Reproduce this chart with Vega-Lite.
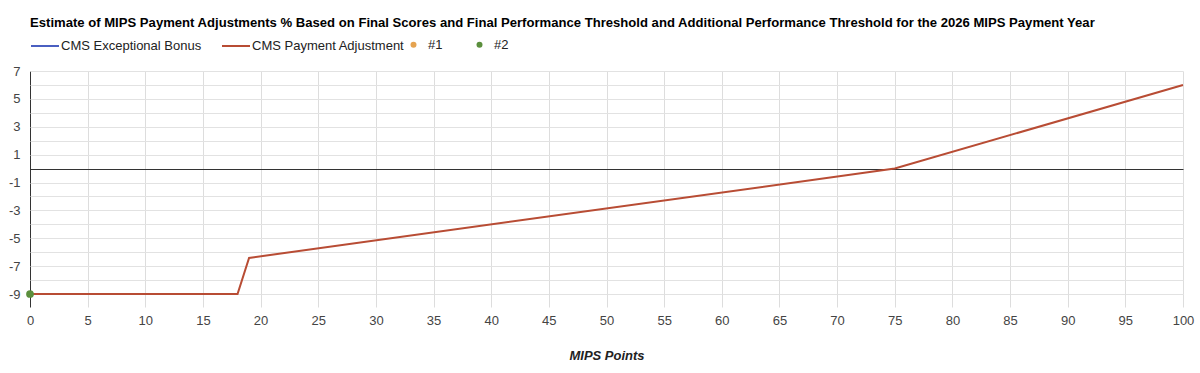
{
  "$schema": "https://vega.github.io/schema/vega-lite/v6.json",
  "autosize": {"type": "none"},
  "padding": {"left": 30, "top": 71, "right": 17, "bottom": 79},
  "width": 1153,
  "height": 223,
  "background": "white",
  "config": {
    "font": "Liberation Sans",
    "view": {"stroke": null}
  },
  "title": {
    "text": "Estimate of MIPS Payment Adjustments % Based on Final Scores and Final Performance Threshold and Additional Performance Threshold for the 2026 MIPS Payment Year",
    "anchor": "start",
    "frame": "group",
    "font": "Liberation Sans",
    "fontSize": 13.1,
    "fontWeight": "bold",
    "color": "#000000",
    "offset": 1
  },
  "datasets": {
    "lines": [
      {"points": 0, "pct": -9, "series": "CMS Payment Adjustment"},
      {"points": 18, "pct": -9, "series": "CMS Payment Adjustment"},
      {"points": 19, "pct": -6.41, "series": "CMS Payment Adjustment"},
      {"points": 75, "pct": 0, "series": "CMS Payment Adjustment"},
      {"points": 100, "pct": 6, "series": "CMS Payment Adjustment"}
    ],
    "dots": [
      {"points": 0, "pct": -9, "series": "#2"}
    ]
  },
  "layer": [
    {
      "data": {"name": "lines"},
      "mark": {"type": "line", "strokeWidth": 2},
      "encoding": {
        "x": {
          "field": "points", "type": "quantitative",
          "scale": {"domain": [0, 100], "nice": false, "zero": false},
          "axis": {
            "title": "MIPS Points",
            "titleFont": "Liberation Sans",
            "titleFontSize": 13,
            "titleFontWeight": "bold",
            "titleFontStyle": "italic",
            "titleColor": "#222222",
            "titlePadding": 22,
            "values": [0,5,10,15,20,25,30,35,40,45,50,55,60,65,70,75,80,85,90,95,100],
            "tickCount": 30,
            "labelFontSize": 13,
            "labelColor": "#444444",
            "labelPadding": 7,
            "labelFlush": false,
            "labelOverlap": false,
            "domain": false,
            "tickSize": 13,
            "tickColor": {"condition": {"test": "datum.value === 0", "value": "#333333"}, "value": "#dddddd"},
            "grid": true,
            "gridColor": {"condition": {"test": "datum.value === 0", "value": "#333333"}, "value": "#dddddd"},
            "gridOpacity": 1
          }
        },
        "y": {
          "field": "pct", "type": "quantitative",
          "scale": {"domain": [-9, 7], "nice": false, "zero": false},
          "axis": {
            "title": null,
            "values": [-9,-8,-7,-6,-5,-4,-3,-2,-1,0,1,2,3,4,5,6,7],
            "tickCount": 20,
            "labelExpr": "datum.value % 2 !== 0 ? '' + datum.value : ''",
            "labelOverlap": false,
            "labelFontSize": 13,
            "labelColor": "#444444",
            "labelPadding": 10,
            "ticks": false,
            "domain": false,
            "grid": true,
            "gridColor": {"condition": {"test": "datum.value === 0", "value": "#333333"}, "value": "#e2e2e2"},
            "gridOpacity": 1
          }
        },
        "color": {
          "field": "series", "type": "nominal",
          "scale": {"domain": ["CMS Exceptional Bonus", "CMS Payment Adjustment"], "range": ["#4a5fc1", "#b84c34"]},
          "legend": {
            "title": null,
            "orient": "none",
            "legendX": 0,
            "legendY": -40,
            "direction": "horizontal",
            "symbolType": "stroke",
            "symbolSize": 784,
            "symbolStrokeWidth": 2,
            "labelFontSize": 13,
            "labelColor": "#222222",
            "labelOffset": 1,
            "columnPadding": 16
          }
        }
      }
    },
    {
      "data": {"name": "dots"},
      "mark": {"type": "point", "filled": true, "opacity": 1, "size": 60},
      "encoding": {
        "x": {"field": "points", "type": "quantitative"},
        "y": {"field": "pct", "type": "quantitative"},
        "color": {
          "field": "series", "type": "nominal",
          "scale": {"domain": ["#1", "#2"], "range": ["#e5a350", "#5b8f3d"]},
          "legend": {
            "title": null,
            "orient": "none",
            "legendX": 377,
            "legendY": -33,
            "direction": "horizontal",
            "symbolType": "circle",
            "symbolSize": 36,
            "symbolOpacity": 1,
            "labelFontSize": 13,
            "labelColor": "#222222",
            "labelOffset": 8,
            "columnPadding": 30
          }
        }
      }
    }
  ],
  "resolve": {"scale": {"color": "independent"}, "legend": {"color": "independent"}}
}
